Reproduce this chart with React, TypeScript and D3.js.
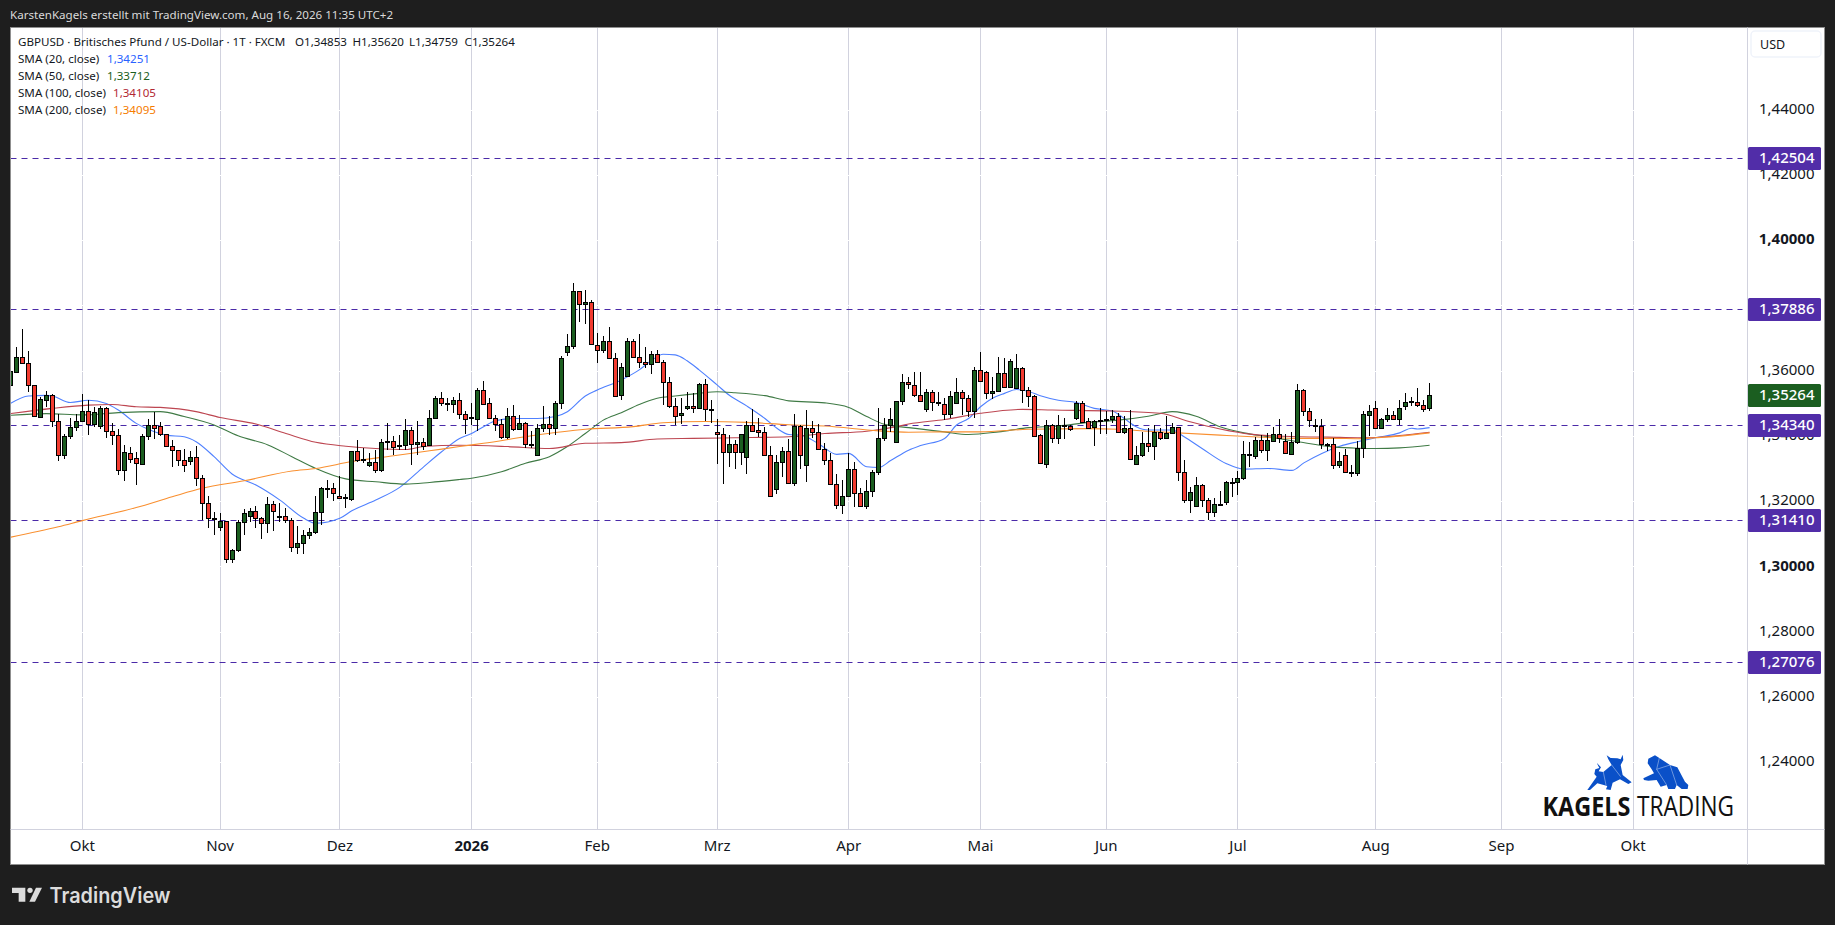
import { useEffect, useRef } from 'react';
import * as d3 from 'd3';

// Daily candles, bar 0 = first visible session
const highs = [
  1.3620,1.3671,1.3726,1.3659,1.3556,1.3520,1.3536,1.3528,1.3467,1.3407,
  1.3456,1.3467,1.3528,1.3510,1.3487,1.3491,1.3489,1.3438,1.3420,1.3371,
  1.3365,1.3351,1.3407,1.3453,1.3473,1.3441,1.3407,1.3386,1.3358,1.3361,
  1.3352,1.3369,1.3279,1.3217,1.3165,1.3162,1.3139,1.3052,1.3141,1.3175,
  1.3178,1.3184,1.3152,1.3213,1.3199,1.3195,1.3178,1.3147,1.3123,1.3111,
  1.3118,1.3214,1.3242,1.3266,1.3254,1.3276,1.3221,1.3353,1.3387,1.3364,
  1.3346,1.3356,1.3390,1.3438,1.3398,1.3401,1.3453,1.3426,1.3445,1.3393,
  1.3479,1.3523,1.3534,1.3516,1.3518,1.3530,1.3477,1.3499,1.3548,1.3568,
  1.3515,1.3464,1.3450,1.3484,1.3494,1.3463,1.3443,1.3414,1.3435,1.3491,
  1.3461,1.3507,1.3644,1.3711,1.3867,1.3845,1.3847,1.3816,1.3714,1.3706,
  1.3732,1.3653,1.3622,1.3700,1.3696,1.3711,1.3671,1.3659,1.3662,1.3632,
  1.3581,1.3515,1.3515,1.3533,1.3530,1.3561,1.3573,1.3510,1.3453,1.3423,
  1.3402,1.3387,1.3407,1.3446,1.3481,1.3456,1.3428,1.3368,1.3340,1.3367,
  1.3390,1.3466,1.3434,1.3478,1.3445,1.3435,1.3377,1.3346,1.3283,1.3264,
  1.3346,1.3321,1.3239,1.3266,1.3295,1.3484,1.3456,1.3484,1.3508,1.3588,
  1.3579,1.3594,1.3597,1.3542,1.3540,1.3533,1.3515,1.3537,1.3576,1.3540,
  1.3526,1.3610,1.3656,1.3599,1.3581,1.3643,1.3637,1.3634,1.3652,1.3610,
  1.3550,1.3524,1.3404,1.3447,1.3435,1.3464,1.3456,1.3434,1.3507,1.3506,
  1.3456,1.3448,1.3484,1.3477,1.3480,1.3471,1.3462,1.3479,1.3369,1.3411,
  1.3423,1.3433,1.3423,1.3460,1.3440,1.3428,1.3326,1.3242,1.3274,1.3252,
  1.3208,1.3208,1.3230,1.3260,1.3272,1.3293,1.3383,1.3382,1.3395,1.3401,
  1.3410,1.3428,1.3450,1.3407,1.3412,1.3559,1.3542,1.3484,1.3453,1.3453,
  1.3377,1.3392,1.3350,1.3361,1.3310,1.3385,1.3477,1.3494,1.3506,1.3456,
  1.3484,1.3477,1.3509,1.3531,1.3518,1.3546,1.3511,1.3562,
];
const opens = [
  1.3556,1.3597,1.3643,1.3622,1.3555,1.3459,1.3511,1.3524,1.3444,1.3340,
  1.3398,1.3426,1.3444,1.3475,1.3435,1.3429,1.3484,1.3414,1.3401,1.3294,
  1.3347,1.3331,1.3315,1.3398,1.3432,1.3429,1.3404,1.3368,1.3355,1.3325,
  1.3322,1.3334,1.3270,1.3193,1.3146,1.3122,1.3138,1.3021,1.3049,1.3135,
  1.3153,1.3171,1.3147,1.3132,1.3190,1.3153,1.3153,1.3141,1.3058,1.3070,
  1.3095,1.3104,1.3165,1.3238,1.3239,1.3217,1.3208,1.3207,1.3352,1.3325,
  1.3312,1.3319,1.3294,1.3382,1.3383,1.3370,1.3371,1.3417,1.3374,1.3380,
  1.3371,1.3456,1.3515,1.3496,1.3496,1.3509,1.3466,1.3455,1.3450,1.3539,
  1.3499,1.3456,1.3435,1.3395,1.3460,1.3420,1.3438,1.3375,1.3340,1.3423,
  1.3435,1.3423,1.3502,1.3656,1.3674,1.3843,1.3803,1.3809,1.3677,1.3662,
  1.3692,1.3637,1.3524,1.3584,1.3689,1.3640,1.3625,1.3619,1.3650,1.3625,
  1.3564,1.3492,1.3463,1.3484,1.3490,1.3484,1.3558,1.3480,1.3411,1.3404,
  1.3351,1.3374,1.3351,1.3334,1.3432,1.3417,1.3411,1.3340,1.3236,1.3319,
  1.3352,1.3254,1.3429,1.3309,1.3423,1.3411,1.3361,1.3325,1.3251,1.3187,
  1.3217,1.3297,1.3224,1.3184,1.3230,1.3288,1.3392,1.3433,1.3380,1.3506,
  1.3564,1.3557,1.3524,1.3481,1.3533,1.3505,1.3498,1.3466,1.3499,1.3533,
  1.3515,1.3475,1.3603,1.3594,1.3530,1.3536,1.3591,1.3551,1.3548,1.3607,
  1.3539,1.3521,1.3401,1.3315,1.3432,1.3392,1.3430,1.3429,1.3456,1.3502,
  1.3444,1.3426,1.3445,1.3447,1.3453,1.3462,1.3413,1.3423,1.3315,1.3340,
  1.3377,1.3368,1.3413,1.3392,1.3410,1.3426,1.3288,1.3202,1.3184,1.3248,
  1.3202,1.3165,1.3188,1.3198,1.3256,1.3257,1.3271,1.3341,1.3339,1.3386,
  1.3358,1.3385,1.3407,1.3383,1.3345,1.3380,1.3539,1.3475,1.3430,1.3429,
  1.3374,1.3374,1.3312,1.3340,1.3287,1.3287,1.3363,1.3465,1.3484,1.3425,
  1.3450,1.3465,1.3452,1.3490,1.3504,1.3505,1.3493,1.3485,
];
const closes = [
  1.3598,1.3643,1.3622,1.3555,1.3460,1.3512,1.3524,1.3444,1.3340,1.3398,
  1.3426,1.3444,1.3475,1.3435,1.3472,1.3484,1.3414,1.3401,1.3294,1.3349,
  1.3330,1.3316,1.3398,1.3432,1.3423,1.3404,1.3368,1.3355,1.3325,1.3309,
  1.3334,1.3270,1.3193,1.3147,1.3147,1.3138,1.3021,1.3049,1.3135,1.3162,
  1.3171,1.3147,1.3132,1.3190,1.3171,1.3155,1.3141,1.3058,1.3070,1.3095,
  1.3104,1.3165,1.3239,1.3239,1.3224,1.3210,1.3211,1.3352,1.3325,1.3328,
  1.3319,1.3294,1.3380,1.3384,1.3365,1.3372,1.3417,1.3374,1.3380,1.3370,
  1.3456,1.3515,1.3499,1.3499,1.3509,1.3466,1.3453,1.3458,1.3539,1.3498,
  1.3456,1.3435,1.3397,1.3460,1.3420,1.3438,1.3374,1.3376,1.3423,1.3435,
  1.3423,1.3502,1.3637,1.3674,1.3843,1.3803,1.3809,1.3682,1.3662,1.3692,
  1.3637,1.3523,1.3610,1.3689,1.3640,1.3625,1.3619,1.3650,1.3625,1.3564,
  1.3492,1.3462,1.3469,1.3490,1.3484,1.3558,1.3481,1.3481,1.3404,1.3351,
  1.3374,1.3351,1.3404,1.3432,1.3416,1.3411,1.3340,1.3214,1.3319,1.3352,
  1.3254,1.3429,1.3340,1.3423,1.3411,1.3361,1.3325,1.3251,1.3187,1.3217,
  1.3297,1.3224,1.3184,1.3230,1.3288,1.3392,1.3433,1.3453,1.3506,1.3564,
  1.3558,1.3524,1.3508,1.3533,1.3505,1.3499,1.3466,1.3521,1.3533,1.3515,
  1.3475,1.3603,1.3567,1.3530,1.3536,1.3591,1.3551,1.3628,1.3607,1.3539,
  1.3521,1.3400,1.3318,1.3432,1.3392,1.3432,1.3432,1.3420,1.3502,1.3443,
  1.3425,1.3444,1.3447,1.3453,1.3462,1.3413,1.3423,1.3328,1.3340,1.3377,
  1.3368,1.3413,1.3392,1.3410,1.3426,1.3288,1.3202,1.3227,1.3248,1.3202,
  1.3165,1.3190,1.3190,1.3257,1.3257,1.3272,1.3343,1.3343,1.3386,1.3358,
  1.3386,1.3407,1.3394,1.3346,1.3380,1.3539,1.3475,1.3447,1.3432,1.3374,
  1.3372,1.3312,1.3322,1.3288,1.3289,1.3364,1.3467,1.3476,1.3425,1.3450,
  1.3465,1.3452,1.3484,1.3505,1.3506,1.3493,1.3483,1.3526,
];
const lows = [
  1.3550,1.3593,1.3622,1.3535,1.3459,1.3455,1.3487,1.3428,1.3323,1.3330,
  1.3389,1.3416,1.3442,1.3402,1.3428,1.3420,1.3394,1.3373,1.3281,1.3262,
  1.3316,1.3250,1.3311,1.3387,1.3391,1.3399,1.3365,1.3305,1.3308,1.3288,
  1.3311,1.3246,1.3141,1.3118,1.3097,1.3109,1.3011,1.3011,1.3045,1.3097,
  1.3137,1.3118,1.3085,1.3103,1.3109,1.3137,1.3132,1.3045,1.3039,1.3039,
  1.3083,1.3098,1.3126,1.3209,1.3201,1.3205,1.3179,1.3201,1.3321,1.3318,
  1.3305,1.3287,1.3290,1.3355,1.3341,1.3356,1.3356,1.3310,1.3341,1.3356,
  1.3369,1.3454,1.3491,1.3476,1.3469,1.3450,1.3404,1.3433,1.3416,1.3493,
  1.3453,1.3416,1.3391,1.3391,1.3415,1.3418,1.3364,1.3364,1.3340,1.3413,
  1.3403,1.3403,1.3483,1.3644,1.3667,1.3750,1.3743,1.3679,1.3624,1.3653,
  1.3637,1.3520,1.3511,1.3584,1.3637,1.3607,1.3607,1.3589,1.3622,1.3494,
  1.3486,1.3433,1.3436,1.3479,1.3471,1.3481,1.3444,1.3440,1.3313,1.3252,
  1.3303,1.3299,1.3311,1.3283,1.3412,1.3395,1.3340,1.3213,1.3223,1.3275,
  1.3252,1.3246,1.3299,1.3258,1.3394,1.3358,1.3310,1.3251,1.3175,1.3160,
  1.3213,1.3183,1.3182,1.3177,1.3212,1.3280,1.3383,1.3413,1.3379,1.3495,
  1.3544,1.3518,1.3504,1.3474,1.3477,1.3492,1.3449,1.3456,1.3497,1.3464,
  1.3458,1.3455,1.3566,1.3514,1.3514,1.3533,1.3548,1.3548,1.3548,1.3502,
  1.3487,1.3397,1.3313,1.3302,1.3379,1.3375,1.3391,1.3416,1.3447,1.3441,
  1.3420,1.3370,1.3407,1.3406,1.3438,1.3413,1.3407,1.3328,1.3310,1.3334,
  1.3349,1.3326,1.3386,1.3390,1.3407,1.3262,1.3195,1.3164,1.3184,1.3183,
  1.3143,1.3152,1.3186,1.3189,1.3213,1.3218,1.3265,1.3305,1.3329,1.3348,
  1.3324,1.3383,1.3377,1.3345,1.3343,1.3374,1.3460,1.3428,1.3412,1.3359,
  1.3354,1.3298,1.3302,1.3286,1.3275,1.3278,1.3333,1.3399,1.3420,1.3422,
  1.3441,1.3449,1.3433,1.3479,1.3492,1.3488,1.3474,1.3476,
];

// Moving averages, read at the bars listed next to each one
const sma20Bars = [0,3,6,7,10,13,16,18,21,23,26,29,31,34,37,41,45,49,51,55,57,61,65,69,72,75,77,79,81,84,88,91,93,96,98,102,105,107,109,111,113,115,118,120,123,126,128,130,132,135,138,140,143,145,147,150,152,156,158,160,162,164,166,168,170,172,175,178,181,184,186,188,190,194,196,199,203,206,210,214,216,219,222,225,228,232,234,235,237];
const sma20 = [1.3499,1.3522,1.3524,1.3522,1.3502,1.3509,1.3499,1.3479,1.3438,1.3420,1.3402,1.3397,1.3382,1.3336,1.3283,1.3249,1.3203,1.3147,1.3132,1.3147,1.3170,1.3203,1.3242,1.3305,1.3351,1.3392,1.3407,1.3428,1.3446,1.3453,1.3453,1.3459,1.3474,1.3522,1.3540,1.3571,1.3602,1.3630,1.3650,1.3648,1.3630,1.3602,1.3556,1.3525,1.3491,1.3453,1.3423,1.3404,1.3402,1.3375,1.3343,1.3346,1.3305,1.3303,1.3324,1.3356,1.3370,1.3392,1.3433,1.3453,1.3489,1.3515,1.3530,1.3542,1.3536,1.3523,1.3509,1.3502,1.3484,1.3476,1.3453,1.3428,1.3418,1.3418,1.3397,1.3361,1.3315,1.3298,1.3300,1.3294,1.3317,1.3346,1.3368,1.3382,1.3394,1.3409,1.3423,1.3421,1.3425];
const sma50Bars = [0,6,12,18,25,29,34,38,43,47,51,56,61,66,70,75,77,82,86,90,93,96,99,102,105,108,111,115,118,121,126,130,136,140,143,146,150,156,160,165,170,175,180,185,190,194,198,202,206,210,215,221,225,228,232,237];
const sma50 = [1.3463,1.3468,1.3464,1.3471,1.3474,1.3459,1.3433,1.3400,1.3372,1.3336,1.3300,1.3268,1.3259,1.3252,1.3257,1.3266,1.3270,1.3290,1.3316,1.3336,1.3367,1.3407,1.3448,1.3471,1.3496,1.3515,1.3522,1.3530,1.3535,1.3532,1.3523,1.3507,1.3501,1.3487,1.3459,1.3435,1.3425,1.3412,1.3404,1.3412,1.3425,1.3430,1.3441,1.3448,1.3460,1.3474,1.3460,1.3428,1.3409,1.3397,1.3382,1.3366,1.3362,1.3361,1.3363,1.3371];
const sma100Bars = [0,7,13,17,21,25,31,35,41,46,51,56,61,66,69,75,83,90,96,102,108,114,121,130,136,143,148,150,156,162,169,174,184,192,197,202,207,215,220,225,228,232,237];
const sma100 = [1.3468,1.3484,1.3494,1.3496,1.3489,1.3487,1.3474,1.3456,1.3436,1.3407,1.3380,1.3368,1.3361,1.3358,1.3367,1.3371,1.3367,1.3361,1.3377,1.3379,1.3390,1.3392,1.3394,1.3397,1.3407,1.3414,1.3428,1.3436,1.3450,1.3469,1.3481,1.3479,1.3476,1.3469,1.3443,1.3421,1.3405,1.3397,1.3396,1.3394,1.3395,1.3401,1.3411];
const sma200Bars = [0,8,12,21,27,32,39,47,51,57,64,70,75,79,87,96,104,109,116,123,130,136,145,150,156,162,170,180,185,190,202,210,215,221,225,228,232,237];
const sma200 = [1.3089,1.3121,1.3140,1.3180,1.3213,1.3239,1.3262,1.3292,1.3300,1.3321,1.3339,1.3354,1.3367,1.3377,1.3400,1.3420,1.3428,1.3440,1.3444,1.3441,1.3434,1.3430,1.3415,1.3411,1.3412,1.3412,1.3420,1.3422,1.3420,1.3414,1.3402,1.3395,1.3392,1.3392,1.3391,1.3394,1.3399,1.3409];

const priceTicks = [1.44, 1.42, 1.40, 1.38, 1.36, 1.34, 1.32, 1.30, 1.28, 1.26, 1.24];
const boldPrices = [1.40, 1.30];
const levels = [1.42504, 1.37886, 1.34340, 1.31410, 1.27076];
const lastClose = 1.35264;

const monthLabels = ['Okt', 'Nov', 'Dez', '2026', 'Feb', 'Mrz', 'Apr', 'Mai', 'Jun', 'Jul', 'Aug', 'Sep', 'Okt'];
const monthBars = [12, 35, 55, 77, 98, 118, 140, 162, 183, 205, 228, 249, 271];

const smaSeries = [
  { label: 'SMA (20, close)', value: '1,34251', bars: sma20Bars, values: sma20, color: '#2962ff', lineColor: '#4f80ff', valueX: 107 },
  { label: 'SMA (50, close)', value: '1,33712', bars: sma50Bars, values: sma50, color: '#1b5e20', lineColor: '#3f7a45', valueX: 107 },
  { label: 'SMA (100, close)', value: '1,34105', bars: sma100Bars, values: sma100, color: '#b22833', lineColor: '#bd4651', valueX: 113 },
  { label: 'SMA (200, close)', value: '1,34095', bars: sma200Bars, values: sma200, color: '#f57c00', lineColor: '#f98f2f', valueX: 113 },
];

const UI_FONT = '"Noto Sans", sans-serif';
const fmt = (p: number) => p.toFixed(5).replace('.', ',');

export default function App() {
  const svgRef = useRef<SVGSVGElement>(null);

  useEffect(() => {
    if (!svgRef.current) return;
    const width = 1835;
    const height = 925;
    const left = 10.5;
    const right = 1824.5;
    const top = 27.5;
    const bottom = 864.5;
    const axisX = 1747.5;
    const axisY = 829.5;

    const svg = d3.select(svgRef.current)
      .attr('viewBox', `0 0 ${width} ${height}`)
      .attr('width', width)
      .attr('height', height)
      .style('position', 'absolute')
      .style('left', 0)
      .style('top', 0)
      .style('display', 'block')
      .style('font-family', UI_FONT);

    svg.selectAll('*').remove();

    const x = d3.scaleLinear().domain([0, 237]).range([10.5, 1429.6]);
    const y = d3.scaleLinear().domain([1.44, 1.24]).range([109.5, 762.1]);

    svg.append('rect').attr('width', width).attr('height', height).attr('fill', '#1e1e1e');
    svg.append('rect')
      .attr('x', left).attr('y', top)
      .attr('width', right - left).attr('height', bottom - top)
      .attr('fill', '#fff').attr('stroke', '#8f8f8f');

    svg.append('defs').append('clipPath').attr('id', 'plot')
      .append('rect')
      .attr('x', left + 0.5).attr('y', top + 0.5)
      .attr('width', axisX - left - 0.5).attr('height', axisY - top - 0.5);

    const plot = svg.append('g').attr('clip-path', 'url(#plot)');

    // vertical grid sits below the white horizontal one, so it shows small gaps
    plot.selectAll('.grid-x').data(monthBars).enter().append('line')
      .attr('x1', d => Math.floor(x(d)) + 0.5)
      .attr('x2', d => Math.floor(x(d)) + 0.5)
      .attr('y1', top).attr('y2', axisY)
      .attr('stroke', '#d1d2de');
    plot.selectAll('.grid-y').data(priceTicks).enter().append('line')
      .attr('y1', d => Math.round(y(d)) + 0.5)
      .attr('y2', d => Math.round(y(d)) + 0.5)
      .attr('x1', left).attr('x2', axisX)
      .attr('stroke', '#fff');

    // watermark
    const logo = plot.append('g');
    const marks = logo.append('g').attr('transform', 'translate(1500,730) scale(0.3333)');
    marks.append('path')
      .attr('d', 'M262 180 L290 140 L283 132 L286 118 L298 114 L290 98 L303 112 L296 124 L310 126 L335 105 L325 88 L320 76 L332 84 L352 85 L362 88 L368 74 L370 90 L362 105 L368 135 L395 157 L385 162 L360 148 L338 158 L332 180 L318 178 L322 168 L292 160 L270 180 Z')
      .attr('fill', '#0a50c8');
    marks.append('path')
      .attr('d', 'M430 145 L462 130 L455 118 L443 100 L445 86 L465 76 L478 84 L510 105 L532 112 L555 155 L565 165 L563 177 L545 177 L530 165 L525 177 L505 177 L500 165 L482 170 L470 150 L445 152 L432 150 Z')
      .attr('fill', '#0a50c8');
    marks.append('path')
      .attr('d', 'M335 105 L362 140 M310 126 L318 165 M478 84 L470 118 L510 105 L530 165 M470 118 L500 165')
      .attr('fill', 'none').attr('stroke', '#fff').attr('stroke-opacity', 0.6).attr('stroke-width', 2);
    logo.append('text').text('KAGELS')
      .attr('x', 1542.5).attr('y', 816)
      .attr('textLength', 88).attr('lengthAdjust', 'spacingAndGlyphs')
      .attr('font-family', '"Open Sans"').attr('font-weight', 700).attr('font-size', 27)
      .attr('fill', '#111');
    logo.append('text').text('TRADING')
      .attr('x', 1637).attr('y', 816)
      .attr('textLength', 97).attr('lengthAdjust', 'spacingAndGlyphs')
      .attr('font-family', '"Open Sans"').attr('font-weight', 400).attr('font-size', 27)
      .attr('fill', '#111');

    plot.selectAll('.level').data(levels).enter().append('line')
      .attr('x1', left).attr('x2', axisX - 5)
      .attr('y1', d => Math.round(y(d)) + 0.5)
      .attr('y2', d => Math.round(y(d)) + 0.5)
      .attr('stroke', '#4a2aa8')
      .attr('stroke-dasharray', '6 5');

    smaSeries.forEach(s => {
      const line = d3.line<number>()
        .x((_, i) => x(s.bars[i]))
        .y(d => y(d))
        .curve(d3.curveMonotoneX);
      plot.append('path')
        .attr('d', line(s.values))
        .attr('fill', 'none')
        .attr('stroke', s.lineColor)
        .attr('stroke-width', 1.1);
    });

    const candles = plot.append('g').attr('shape-rendering', 'crispEdges');
    highs.forEach((hi, i) => {
      const cx = Math.floor(x(i));
      const up = closes[i] >= opens[i];
      const yTop = Math.round(y(Math.max(opens[i], closes[i])));
      const yBot = Math.round(y(Math.min(opens[i], closes[i])));
      candles.append('rect')
        .attr('x', cx).attr('width', 1)
        .attr('y', Math.round(y(hi)))
        .attr('height', Math.max(1, Math.round(y(lows[i])) - Math.round(y(hi))))
        .attr('fill', '#000');
      candles.append('rect')
        .attr('x', cx - 1.5).attr('width', 4)
        .attr('y', yTop + 0.5)
        .attr('height', Math.max(1, yBot - yTop))
        .attr('fill', up ? '#1b5e20' : '#f23b30')
        .attr('stroke', '#000');
    });

    // axes frame
    svg.append('line').attr('x1', axisX).attr('x2', axisX).attr('y1', top).attr('y2', bottom).attr('stroke', '#d1d2de');
    svg.append('line').attr('x1', left).attr('x2', right).attr('y1', axisY).attr('y2', axisY).attr('stroke', '#d1d2de');

    svg.selectAll('.month').data(monthLabels).enter().append('text')
      .text(d => d)
      .attr('x', (_, i) => x(monthBars[i]))
      .attr('y', 845.8)
      .attr('dy', '0.35em')
      .attr('text-anchor', 'middle')
      .attr('font-size', 15)
      .attr('font-weight', d => d === '2026' ? 700 : 400)
      .attr('fill', '#131722');

    svg.selectAll('.price').data(priceTicks).enter().append('text')
      .text(d => fmt(d))
      .attr('x', 1814.5)
      .attr('y', d => y(d) - 1)
      .attr('dy', '0.35em')
      .attr('text-anchor', 'end')
      .attr('font-size', 15)
      .attr('font-weight', d => boldPrices.includes(d) ? 700 : 400)
      .attr('fill', '#131722');

    const labelData = [...levels.map(v => ({ v, fill: '#512da8' })), { v: lastClose, fill: '#1b5e20' }];
    const tags = svg.selectAll('.tag').data(labelData).enter().append('g');
    tags.append('rect')
      .attr('x', 1748).attr('width', 73)
      .attr('y', d => Math.round(y(d.v)) - 11).attr('height', 23)
      .attr('rx', 1.5)
      .attr('fill', d => d.fill);
    tags.append('text')
      .text(d => fmt(d.v))
      .attr('x', 1814.5)
      .attr('y', d => Math.round(y(d.v)))
      .attr('dy', '0.35em')
      .attr('text-anchor', 'end')
      .attr('font-size', 15)
      .attr('font-weight', 500)
      .attr('fill', '#fff');

    svg.append('rect')
      .attr('x', 1751).attr('y', 31).attr('width', 70).attr('height', 26).attr('rx', 4)
      .attr('fill', '#fff').attr('stroke', '#f0f3fa').attr('stroke-width', 1.5);
    svg.append('text').text('USD')
      .attr('x', 1760).attr('y', 44.5).attr('dy', '0.35em')
      .attr('font-size', 12.5).attr('fill', '#131722');

    // legend
    const legendSize = 11.6;
    const titleParts = [
      { t: 'GBPUSD · Britisches Pfund / US-Dollar · 1T · FXCM', x: 18 },
      { t: 'O1,34853', x: 295 },
      { t: 'H1,35620', x: 352.5 },
      { t: 'L1,34759', x: 409 },
      { t: 'C1,35264', x: 464.6 },
    ];
    svg.selectAll('.title').data(titleParts).enter().append('text')
      .text(d => d.t)
      .attr('x', d => d.x).attr('y', 42).attr('dy', '0.35em')
      .attr('font-size', legendSize).attr('fill', '#131722');
    const rowY = [59, 75.7, 92.7, 110];
    smaSeries.forEach((s, i) => {
      svg.append('text').text(s.label)
        .attr('x', 18).attr('y', rowY[i]).attr('dy', '0.35em')
        .attr('font-size', legendSize).attr('fill', '#131722');
      svg.append('text').text(s.value)
        .attr('x', s.valueX).attr('y', rowY[i]).attr('dy', '0.35em')
        .attr('font-size', legendSize).attr('fill', s.color);
    });

    // header and footer on the dark frame
    svg.append('text').text('KarstenKagels erstellt mit TradingView.com, Aug 16, 2026 11:35 UTC+2')
      .attr('x', 10).attr('y', 15).attr('dy', '0.35em')
      .attr('font-size', 11.6).attr('fill', '#dadada');

    const tv = svg.append('g').attr('transform', 'translate(0,820) scale(0.3333)').attr('fill', '#dcdcdc');
    tv.append('path').attr('d', 'M36 203 H76 V245 H56 V219 H36 Z');
    tv.append('circle').attr('cx', 90).attr('cy', 211).attr('r', 8);
    tv.append('path').attr('d', 'M108 203 H126 L105 245 H88 Z');
    svg.append('text').text('TradingView')
      .attr('x', 49.5).attr('y', 902.5)
      .attr('font-family', 'Inter').attr('font-weight', 600).attr('font-size', 21)
      .attr('textLength', 121).attr('lengthAdjust', 'spacingAndGlyphs')
      .attr('fill', '#dcdcdc');
  }, []);

  return <svg ref={svgRef} />;
}
